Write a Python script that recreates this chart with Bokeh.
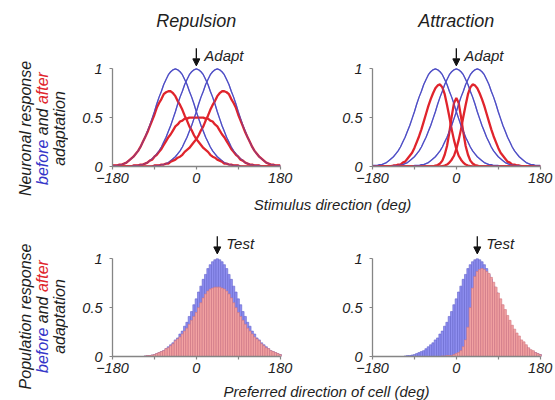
import math
from bokeh.plotting import figure
from bokeh.layouts import row, column
from bokeh.models import Range1d, FixedTicker, Label, Arrow, NormalHead, ColumnDataSource
from bokeh.embed import file_html
from bokeh.resources import INLINE

# ---------------- data ----------------
angles = list(range(-180, 181, 5))   # stimulus / preferred direction (deg)

# tuning curves before adaptation (peaks at -45, 0, +45)
before_m45 = [0.01,0.01,0.01,0.02,0.02,0.03,0.04,0.06,0.08,0.10,
              0.13,0.16,0.20,0.25,0.30,0.36,0.42,0.49,0.56,0.64,
              0.71,0.77,0.84,0.89,0.94,0.97,0.99,1.00,0.99,0.97,
              0.94,0.89,0.84,0.77,0.71,0.64,0.56,0.49,0.42,0.36,
              0.30,0.25,0.20,0.16,0.13,0.10,0.08,0.06,0.04,0.03,
              0.02,0.02,0.01,0.01,0.01,0,0,0,0,0,
              0,0,0,0,0,0,0,0,0,0,
              0,0,0]
before_0 = [0,0,0,0,0,0,0,0,0,0.01,
            0.01,0.01,0.02,0.02,0.03,0.04,0.06,0.08,0.10,0.13,
            0.16,0.20,0.25,0.30,0.36,0.42,0.49,0.56,0.64,0.71,
            0.77,0.84,0.89,0.94,0.97,0.99,1.00,0.99,0.97,0.94,
            0.89,0.84,0.77,0.71,0.64,0.56,0.49,0.42,0.36,0.30,
            0.25,0.20,0.16,0.13,0.10,0.08,0.06,0.04,0.03,0.02,
            0.02,0.01,0.01,0.01,0,0,0,0,0,0,
            0,0,0]
before_p45 = [0,0,0,0,0,0,0,0,0,0,
              0,0,0,0,0,0,0,0,0.01,0.01,
              0.01,0.02,0.02,0.03,0.04,0.06,0.08,0.10,0.13,0.16,
              0.20,0.25,0.30,0.36,0.42,0.49,0.56,0.64,0.71,0.77,
              0.84,0.89,0.94,0.97,0.99,1.00,0.99,0.97,0.94,0.89,
              0.84,0.77,0.71,0.64,0.56,0.49,0.42,0.36,0.30,0.25,
              0.20,0.16,0.13,0.10,0.08,0.06,0.04,0.03,0.02,0.02,
              0.01,0.01,0.01]

# repulsion: tuning curves after adaptation
rep_after_left = [0.01,0.01,0.01,0.02,0.02,0.03,0.04,0.06,0.08,0.10,
                  0.13,0.16,0.20,0.25,0.30,0.35,0.41,0.47,0.53,0.60,
                  0.65,0.69,0.74,0.76,0.77,0.77,0.75,0.72,0.67,0.63,
                  0.58,0.52,0.47,0.41,0.37,0.32,0.28,0.25,0.22,0.19,
                  0.17,0.15,0.12,0.10,0.09,0.07,0.06,0.05,0.03,0.03,
                  0.02,0.02,0.01,0.01,0.01,0,0,0,0,0,
                  0,0,0,0,0,0,0,0,0,0,
                  0,0,0]
rep_after_mid = [0,0,0,0,0,0,0,0,0,0.01,
                 0.01,0.01,0.02,0.02,0.03,0.04,0.06,0.07,0.10,0.12,
                 0.15,0.18,0.22,0.26,0.30,0.33,0.37,0.41,0.43,0.46,
                 0.47,0.49,0.49,0.50,0.50,0.50,0.50,0.50,0.50,0.50,
                 0.49,0.49,0.47,0.46,0.43,0.41,0.37,0.33,0.30,0.26,
                 0.22,0.18,0.15,0.12,0.10,0.07,0.06,0.04,0.03,0.02,
                 0.02,0.01,0.01,0.01,0,0,0,0,0,0,
                 0,0,0]
rep_after_right = [0,0,0,0,0,0,0,0,0,0,
                   0,0,0,0,0,0,0,0,0.01,0.01,
                   0.01,0.02,0.02,0.03,0.03,0.05,0.06,0.07,0.09,0.10,
                   0.12,0.15,0.17,0.19,0.22,0.25,0.28,0.32,0.37,0.41,
                   0.47,0.52,0.58,0.63,0.67,0.72,0.75,0.77,0.77,0.76,
                   0.74,0.69,0.65,0.60,0.53,0.47,0.41,0.35,0.30,0.25,
                   0.20,0.16,0.13,0.10,0.08,0.06,0.04,0.03,0.02,0.02,
                   0.01,0.01,0.01]

# attraction: tuning curves after adaptation
att_after_left = [0,0,0,0,0,0,0,0,0.005,0.01,
                  0.01,0.02,0.02,0.04,0.05,0.08,0.11,0.14,0.19,0.25,
                  0.31,0.38,0.46,0.54,0.62,0.69,0.75,0.80,0.83,0.84,
                  0.81,0.74,0.63,0.51,0.38,0.27,0.18,0.11,0.07,0.04,
                  0.02,0.01,0.005,0,0,0,0,0,0,0,
                  0,0,0,0,0,0,0,0,0,0,
                  0,0,0,0,0,0,0,0,0,0,
                  0,0,0]
att_after_mid = [0,0,0,0,0,0,0,0,0,0,
                 0,0,0,0,0,0,0,0,0,0,
                 0,0,0,0,0,0,0,0.01,0.015,0.03,
                 0.06,0.12,0.21,0.35,0.51,0.65,0.70,0.65,0.51,0.35,
                 0.21,0.12,0.06,0.03,0.015,0.01,0,0,0,0,
                 0,0,0,0,0,0,0,0,0,0,
                 0,0,0,0,0,0,0,0,0,0,
                 0,0,0]
att_after_right = [0,0,0,0,0,0,0,0,0,0,
                   0,0,0,0,0,0,0,0,0,0,
                   0,0,0,0,0,0,0,0,0,0,
                   0.005,0.01,0.02,0.04,0.07,0.11,0.18,0.27,0.38,0.51,
                   0.63,0.74,0.81,0.84,0.83,0.80,0.75,0.69,0.62,0.54,
                   0.46,0.38,0.31,0.25,0.19,0.14,0.11,0.08,0.05,0.04,
                   0.02,0.02,0.01,0.01,0.005,0,0,0,0,0,
                   0,0,0]

# population responses to the test stimulus (+45 deg)
pop_before = [0,0,0,0,0,0,0,0,0,0,
              0,0,0,0,0.005,0.01,0.01,0.015,0.02,0.03,
              0.04,0.05,0.06,0.08,0.10,0.12,0.14,0.17,0.19,0.23,
              0.26,0.31,0.35,0.41,0.46,0.53,0.59,0.66,0.72,0.79,
              0.84,0.90,0.94,0.97,0.99,1.00,0.99,0.97,0.94,0.90,
              0.84,0.79,0.72,0.66,0.59,0.53,0.46,0.41,0.35,0.31,
              0.26,0.23,0.19,0.17,0.14,0.12,0.10,0.08,0.06,0.05,
              0.04,0.03,0.02]
pop_after_rep = [0,0,0,0,0,0,0,0,0,0,
                 0,0,0,0,0.005,0.01,0.01,0.015,0.02,0.03,
                 0.04,0.05,0.06,0.08,0.09,0.11,0.13,0.16,0.18,0.20,
                 0.23,0.26,0.29,0.33,0.37,0.41,0.45,0.50,0.55,0.60,
                 0.64,0.67,0.69,0.70,0.71,0.71,0.71,0.70,0.69,0.67,
                 0.64,0.60,0.55,0.50,0.45,0.41,0.37,0.33,0.29,0.26,
                 0.23,0.20,0.18,0.16,0.13,0.11,0.09,0.08,0.06,0.05,
                 0.04,0.03,0.02]
pop_after_att = [0,0,0,0,0,0,0,0,0,0,
                 0,0,0,0,0,0,0,0,0,0,
                 0,0,0,0,0,0,0,0,0,0,
                 0.005,0.005,0.01,0.01,0.01,0.02,0.03,0.04,0.06,0.10,
                 0.17,0.30,0.50,0.70,0.82,0.87,0.89,0.90,0.89,0.87,
                 0.85,0.81,0.76,0.71,0.65,0.59,0.53,0.48,0.42,0.37,
                 0.32,0.28,0.24,0.21,0.17,0.15,0.12,0.09,0.07,0.06,
                 0.04,0.03,0.02]

x_ticks = [-180, -90, 0, 90, 180]
x_tick_labels = {-180: "\u2212180", -90: "", 0: "0", 90: "", 180: "180"}
y_ticks = [0, 0.5, 1]
y_tick_labels = {0: "0", 0.5: "0.5", 1: "1"}

# ---------------- styling ----------------
FONT = "Liberation Sans"
TXT = "#1e1e1e"
AXC = "#858585"
BLUE = "#4d4dc6"
RED = "#e0242c"
BAR_BLUE = "#8e8ef0"
BAR_BLUE_EDGE = "#6464cc"
BAR_RED = "#f2a2a2"
BAR_RED_EDGE = "#d27680"
YS = 97.7   # pixels per response unit


def panel(min_left, min_right, min_bottom, frame_h):
    p = figure(frame_width=170, frame_height=frame_h,
               min_border_left=min_left, min_border_right=min_right,
               min_border_top=0, min_border_bottom=min_bottom,
               x_range=Range1d(-180, 185), y_range=Range1d(0, frame_h / YS),
               toolbar_location=None, output_backend="svg", title=None)
    p.outline_line_color = None
    p.xgrid.visible = False
    p.ygrid.visible = False
    p.xaxis.ticker = FixedTicker(ticks=x_ticks)
    p.xaxis.major_label_overrides = x_tick_labels
    p.yaxis.ticker = FixedTicker(ticks=y_ticks)
    p.yaxis.major_label_overrides = y_tick_labels
    p.xaxis.bounds = (-180, 180)
    p.yaxis.bounds = (0, 1)
    for ax in (p.xaxis, p.yaxis):
        ax.axis_line_color = AXC
        ax.axis_line_width = 1.3
        ax.major_tick_line_color = AXC
        ax.major_tick_line_width = 1.2
        ax.major_tick_out = 3
        ax.major_tick_in = 0
        ax.minor_tick_line_color = None
        ax.major_label_text_font = FONT
        ax.major_label_text_font_style = "italic"
        ax.major_label_text_font_size = "14.5px"
        ax.major_label_text_color = TXT
    p.xaxis.major_label_standoff = 3
    p.yaxis.major_label_standoff = 7
    return p


def label(p, x, y, text, size="15px", align="left", xoff=0, color=TXT, angle=0.0):
    p.add_layout(Label(x=x, y=y, x_offset=xoff, text=text, text_font=FONT,
                       text_font_style="italic", text_font_size=size,
                       text_color=color, text_align=align,
                       text_baseline="middle", angle=angle))


def marker(p, x, y0, y1, text, xoff):
    p.add_layout(Arrow(end=NormalHead(size=7, fill_color="#111111", line_color="#111111"),
                       x_start=x, y_start=y0, x_end=x, y_end=y1,
                       line_color="#111111", line_width=1.3))
    label(p, x, (y0 + y1) / 2 + 0.02, text, xoff=xoff)


def curves(p, before, after):
    for b in before:
        p.line(angles, b, line_color=BLUE, line_width=1.3)
    for a in after:
        p.line(angles, a, line_color=RED, line_width=2.3)
    for b in before:
        p.line(angles, b, line_color=BLUE, line_width=1.2, line_alpha=0.5)


def bars(p, before, after):
    src = ColumnDataSource(dict(x=angles, before=before, after=after))
    p.vbar(x="x", top="before", width=5, source=src, fill_color=BAR_BLUE,
           line_color=BAR_BLUE_EDGE, line_width=0.6)
    p.vbar(x="x", top="after", width=5, source=src, fill_color=BAR_RED,
           line_color=BAR_RED_EDGE, line_width=0.6)


befores = [before_m45, before_0, before_p45]

# top row (canvas height 192): frame 166 tall, bottom border 26
p1 = panel(44, 18, 26, 166)
curves(p1, befores, [rep_after_left, rep_after_mid, rep_after_right])
label(p1, 0, 1.494, "Repulsion", size="18px", align="center")
marker(p1, 0, 1.21, 1.03, "Adapt", 8)

p2 = panel(72, 13, 26, 166)
curves(p2, befores, [att_after_left, att_after_mid, att_after_right])
label(p2, 0, 1.494, "Attraction", size="18px", align="center")
marker(p2, 0, 1.21, 1.03, "Adapt", 8)

# bottom row (canvas height 167): frame 142 tall, bottom border 25
p3 = panel(44, 18, 25, 142)
bars(p3, pop_before, pop_after_rep)
marker(p3, 45, 1.23, 1.05, "Test", 9)

p4 = panel(72, 13, 25, 142)
bars(p4, pop_before, pop_after_att)
marker(p4, 45, 1.23, 1.05, "Test", 9)


def blank(w, h):
    f = figure(frame_width=w, frame_height=h, min_border=0,
               x_range=Range1d(0, w), y_range=Range1d(0, h),
               x_axis_type=None, y_axis_type=None,
               toolbar_location=None, output_backend="svg", title=None)
    f.outline_line_color = None
    return f


strip1 = blank(487, 22)
label(strip1, 264, 10, "Stimulus direction (deg)", size="15px", align="center")
strip2 = blank(487, 19)
label(strip2, 258, 9, "Preferred direction of cell (deg)", size="15px", align="center")


def ylabel(f, yc, first):
    rot = math.pi / 2
    label(f, 25, yc, first, size="16px", align="center", angle=rot)
    # middle line: "before and after" with coloured words, starting at the bottom
    y0 = yc - 56.5
    label(f, 42, y0, "before", size="16px", color="#3535c8", angle=rot)
    label(f, 42, y0 + 49.8, "and", size="16px", angle=rot)
    label(f, 42, y0 + 80.9, "after", size="16px", color="#e0242c", angle=rot)
    label(f, 59, yc, "adaptation", size="16px", align="center", angle=rot)


yl1 = blank(68, 205)
ylabel(yl1, 77, "Neuronal response")
yl2 = blank(68, 195)
ylabel(yl2, 84, "Population response")

layout = row(column(yl1, yl2),
             column(row(p1, p2), strip1, row(p3, p4), strip2))

open("out.html", "w").write(file_html(layout, INLINE))
